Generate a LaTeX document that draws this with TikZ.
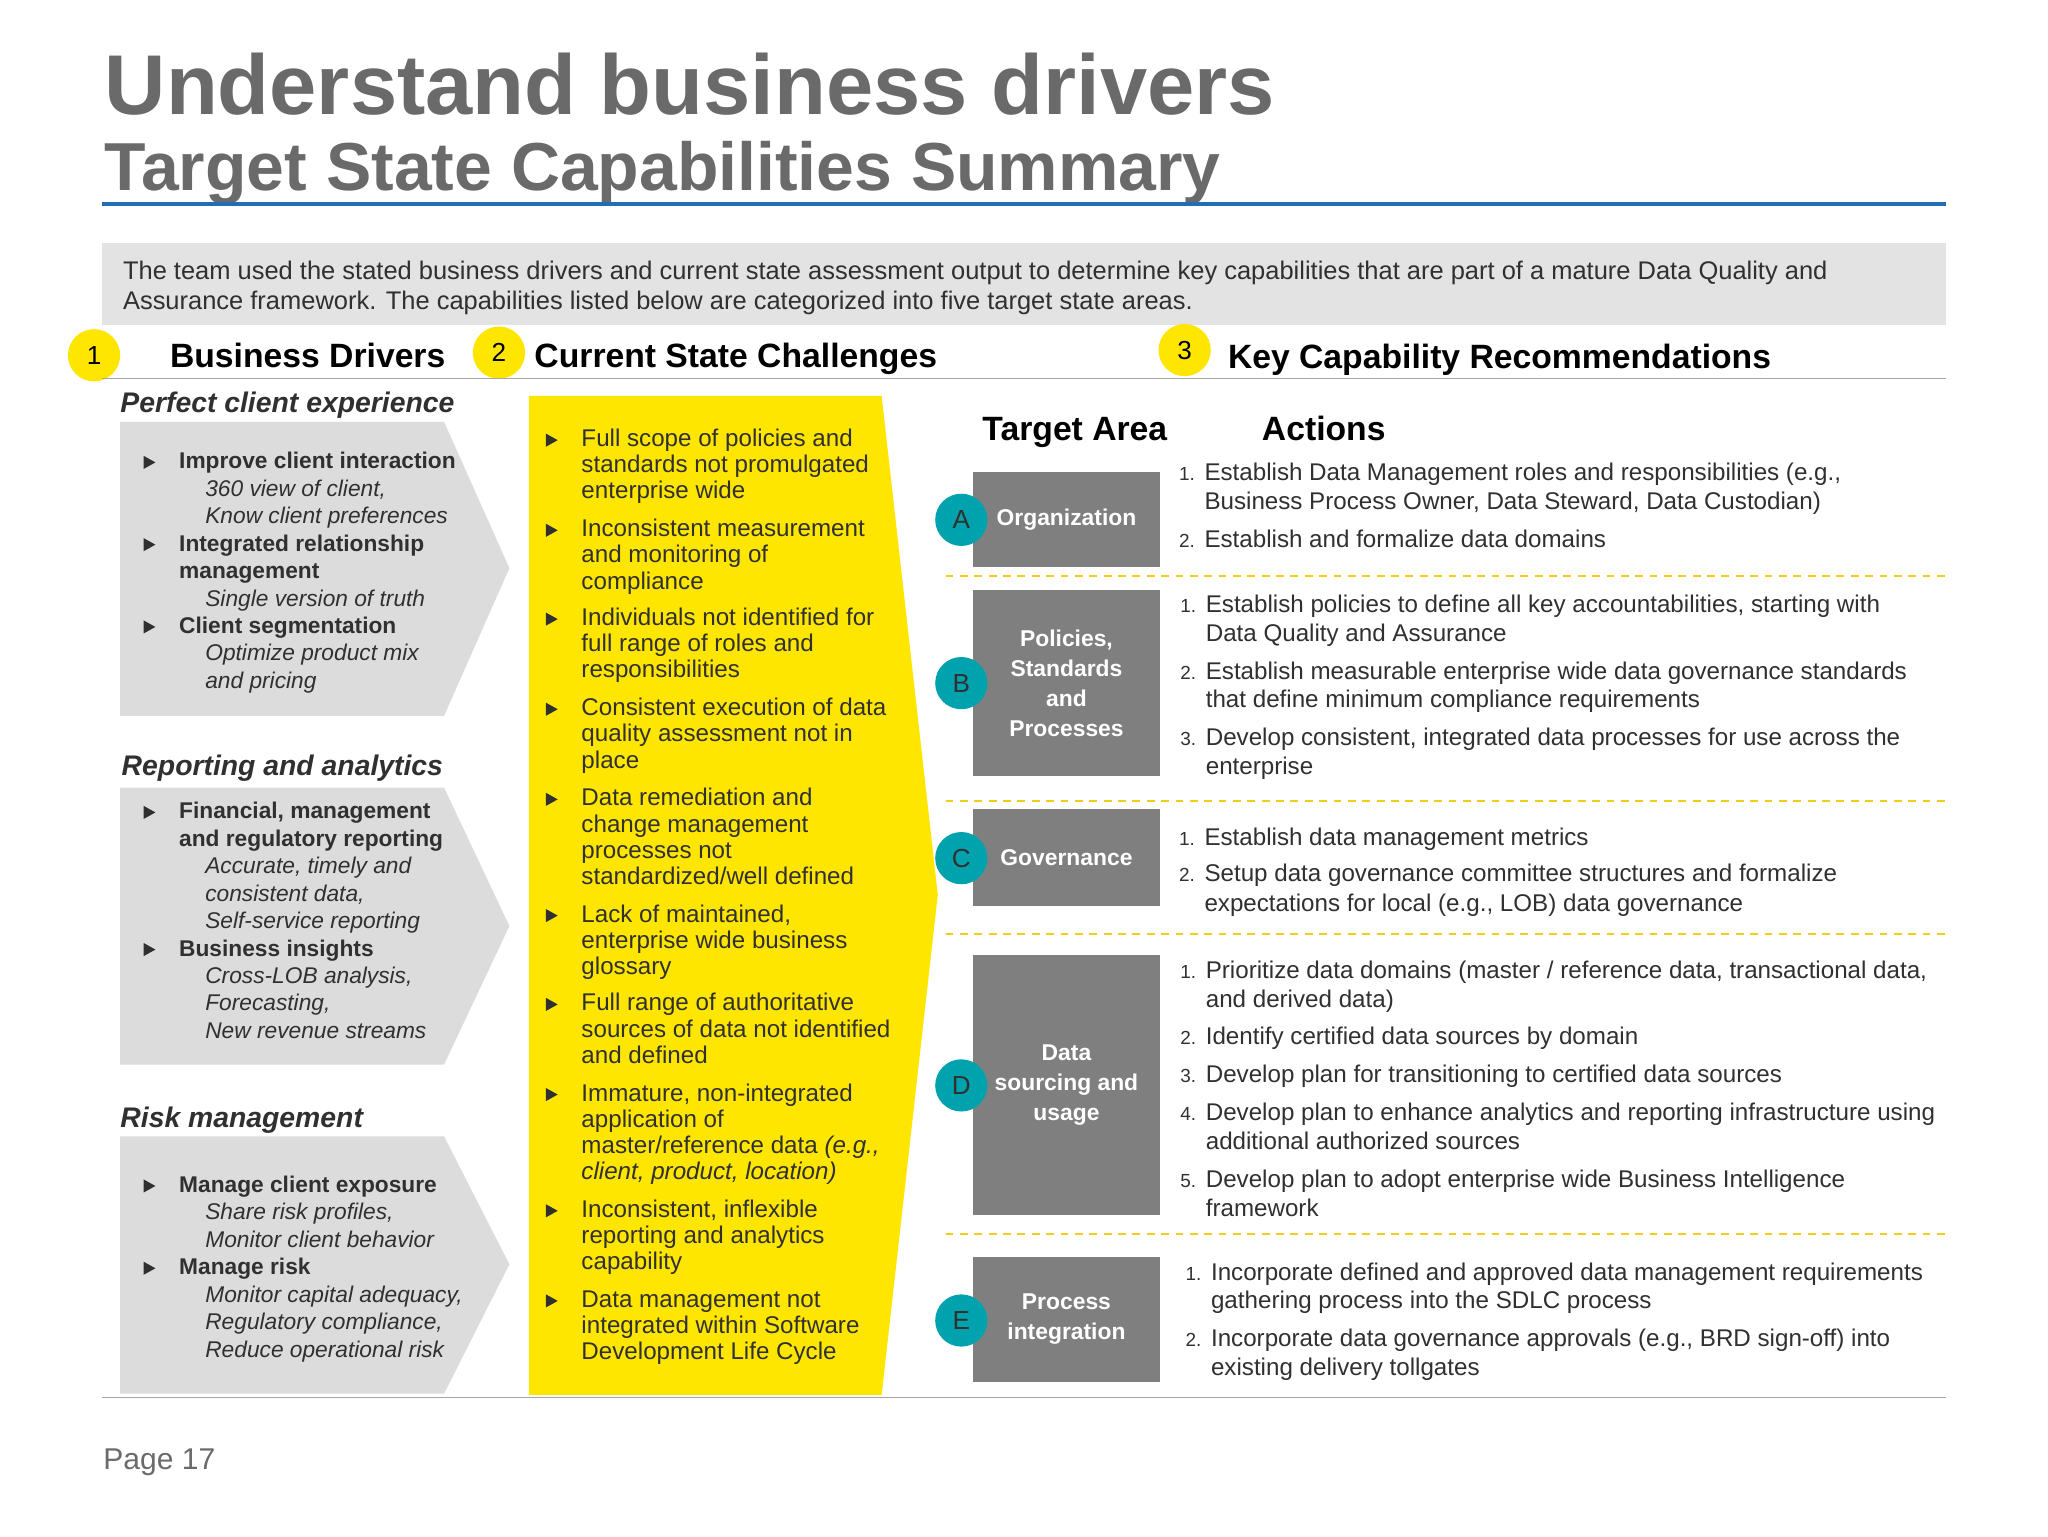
\documentclass[tikz,border=0pt]{standalone}
\usepackage{fontspec}
\setmainfont{Liberation Sans}
\definecolor{ttl}{HTML}{6A6A6A}
\definecolor{bodyc}{HTML}{303030}
\definecolor{ybg}{HTML}{FFE600}
\definecolor{lgray}{HTML}{E3E3E3}
\definecolor{pgray}{HTML}{DCDCDC}
\definecolor{bgray}{HTML}{7F7F80}
\definecolor{tealc}{HTML}{00A3AD}
\definecolor{blueline}{HTML}{1F6FB8}
\definecolor{dashyel}{HTML}{F2CE1A}
\tikzset{
 t/.style={anchor=base west,inner sep=0,text=bodyc,font=\fontsize{18.5}{20}\selectfont},
 tl/.style={anchor=base west,inner sep=0,text=bodyc,font=\fontsize{17.4}{20}\selectfont},
 tb/.style={tl,font=\fontsize{17.4}{20}\selectfont\bfseries},
 ti/.style={tl,font=\fontsize{17.4}{20}\selectfont\itshape},
 num/.style={anchor=base east,inner sep=0,text=bodyc,font=\fontsize{14.5}{16}\selectfont},
 hd/.style={anchor=base west,inner sep=0,text=black,font=\fontsize{25.8}{28}\selectfont\bfseries},
 sec/.style={anchor=base west,inner sep=0,text=bodyc,font=\fontsize{21.7}{24}\selectfont\bfseries\itshape},
 ycirc/.style={circle,fill=ybg,minimum size=40pt,inner sep=0,font=\fontsize{20}{20}\selectfont},
 tcirc/.style={circle,fill=tealc,minimum size=40pt,inner sep=0,font=\fontsize{20}{20}\selectfont,text=bodyc},
 gbox/.style={fill=bgray,text=white,align=center,font=\fontsize{17.5}{23}\selectfont\bfseries,inner sep=0},
 dline/.style={draw=dashyel,line width=1.5pt,dash pattern=on 6pt off 5pt},
}
\newcommand{\tri}[2]{\fill[bodyc] (#1,#2-10) -- (#1+9,#2-5) -- (#1,#2) -- cycle;}
\begin{document}
\begin{tikzpicture}[x=1pt,y=-1pt]
\useasboundingbox (0,0) rectangle (1568,1176);
\fill[white] (0,0) rectangle (1568,1176);
% titles
\node[anchor=base west,inner sep=0,text=ttl,font=\fontsize{65}{65}\selectfont\bfseries] (title) at (80,88) {Understand business drivers};
\node[anchor=base west,inner sep=0,text=ttl,font=\fontsize{52}{52}\selectfont\bfseries] (sub) at (80,146) {Target State Capabilities Summary};
\draw[blueline,line width=3pt] (78,156) -- (1490,156);
% intro
\fill[lgray] (78,186) rectangle (1490,249);
\node[t,font=\fontsize{19.5}{20}\selectfont] (i1) at (94,214) {The team used the stated business drivers and current state assessment output to determine key capabilities that are part of a mature Data Quality and};
\node[t,font=\fontsize{19.5}{20}\selectfont] (i2) at (94,237) {Assurance framework. The capabilities listed below are categorized into five target state areas.};
% headers
\node[ycirc] (c1) at (72,272) {1};
\node[ycirc] (c2) at (382,270) {2};
\node[ycirc] (c3) at (907,268) {3};
\node[hd] (h1) at (130,281) {Business Drivers};
\node[hd] (h2) at (409,281) {Current State Challenges};
\node[hd] (h3) at (940,282) {Key Capability Recommendations};
\draw[gray!70,line width=1pt] (78,290) -- (1490,290);
% left panel
\node[sec] (s1) at (92,316) {Perfect client experience};
\fill[pgray] (92,323) -- (340,323) -- (390,435) -- (340,548) -- (92,548) -- cycle;
\tri{110}{359}\node[tb] at (137,359) {Improve client interaction};
\node[ti] at (157,380) {360 view of client,};
\node[ti] at (157,401) {Know client preferences};
\tri{110}{422}\node[tb] at (137,422) {Integrated relationship};
\node[tb] at (137,443) {management};
\node[ti] at (157,464) {Single version of truth};
\tri{110}{485}\node[tb] at (137,485) {Client segmentation};
\node[ti] at (157,506) {Optimize product mix};
\node[ti] at (157,527) {and pricing};

\node[sec] (s2) at (93,594) {Reporting and analytics};
\fill[pgray] (92,603) -- (340,603) -- (390,709) -- (340,815) -- (92,815) -- cycle;
\tri{110}{627}\node[tb] at (137,627) {Financial, management};
\node[tb] at (137,648) {and regulatory reporting};
\node[ti] at (157,669) {Accurate, timely and};
\node[ti] at (157,690) {consistent data,};
\node[ti] at (157,711) {Self-service reporting};
\tri{110}{732}\node[tb] at (137,732) {Business insights};
\node[ti] at (157,753) {Cross-LOB analysis,};
\node[ti] at (157,774) {Forecasting,};
\node[ti] at (157,795) {New revenue streams};

\node[sec] (s3) at (92,863) {Risk management};
\fill[pgray] (92,870) -- (340,870) -- (390,968) -- (340,1067) -- (92,1067) -- cycle;
\tri{110}{913}\node[tb] at (137,913) {Manage client exposure};
\node[ti] at (157,934) {Share risk profiles,};
\node[ti] at (157,955) {Monitor client behavior};
\tri{110}{976}\node[tb] at (137,976) {Manage risk};
\node[ti] at (157,997) {Monitor capital adequacy,};
\node[ti] at (157,1018) {Regulatory compliance,};
\node[ti] at (157,1039) {Reduce operational risk};
% yellow column
\fill[ybg] (405,303) -- (675,303) -- (718,685) -- (675,1068) -- (405,1068) -- cycle;
\tri{418}{342}\node[t] at (445,342) {Full scope of policies and};
\node[t] at (445,362) {standards not promulgated};
\node[t] at (445,382) {enterprise wide};
\tri{418}{411}\node[t] at (445,411) {Inconsistent measurement};
\node[t] at (445,431) {and monitoring of};
\node[t] at (445,451) {compliance};
\tri{418}{479}\node[t] at (445,479) {Individuals not identified for};
\node[t] at (445,499) {full range of roles and};
\node[t] at (445,519) {responsibilities};
\tri{418}{548}\node[t] at (445,548) {Consistent execution of data};
\node[t] at (445,568) {quality assessment not in};
\node[t] at (445,588) {place};
\tri{418}{617}\node[t] at (445,617) {Data remediation and};
\node[t] at (445,637) {change management};
\node[t] at (445,657) {processes not};
\node[t] at (445,677) {standardized/well defined};
\tri{418}{706}\node[t] at (445,706) {Lack of maintained,};
\node[t] at (445,726) {enterprise wide business};
\node[t] at (445,746) {glossary};
\tri{418}{774}\node[t] at (445,774) {Full range of authoritative};
\node[t] at (445,794) {sources of data not identified};
\node[t] at (445,814) {and defined};
\tri{418}{843}\node[t] at (445,843) {Immature, non-integrated};
\node[t] at (445,863) {application of};
\node[t] at (445,883) {master/reference data \textit{(e.g.,}};
\node[t] at (445,903) {\textit{client, product, location)}};
\tri{418}{932}\node[t] at (445,932) {Inconsistent, inflexible};
\node[t] at (445,952) {reporting and analytics};
\node[t] at (445,972) {capability};
\tri{418}{1001}\node[t] at (445,1001) {Data management not};
\node[t] at (445,1021) {integrated within Software};
\node[t] at (445,1041) {Development Life Cycle};
% right
\node[hd] (ta) at (752,337) {Target Area};
\node[hd] (ac) at (966,337) {Actions};
\node[gbox,minimum width=143pt,minimum height=73pt] (bA) at (816.5,397.5) {Organization};
\node[gbox,minimum width=143pt,minimum height=142pt] (bB) at (816.5,523) {Policies,\\Standards\\and\\Processes};
\node[gbox,minimum width=143pt,minimum height=75pt] (bC) at (816.5,656.5) {Governance};
\node[gbox,minimum width=143pt,minimum height=199pt] (bD) at (816.5,830.5) {Data\\sourcing and\\usage};
\node[gbox,minimum width=143pt,minimum height=96pt] (bE) at (816.5,1010) {Process\\integration};
\node[tcirc] (cA) at (736,398) {A};
\node[tcirc] (cB) at (736,523) {B};
\node[tcirc] (cC) at (736,657) {C};
\node[tcirc] (cD) at (736,831) {D};
\node[tcirc] (cE) at (736,1011) {E};
\draw[dline] (724,441) -- (1490,441);
\draw[dline] (724,613) -- (1490,613);
\draw[dline] (724,715) -- (1490,715);
\draw[dline] (724,945) -- (1490,945);
% actions
\node[num] at (915,368) {1.}; \node[t] at (922,368) {Establish Data Management roles and responsibilities (e.g.,};
\node[t] at (922,390) {Business Process Owner, Data Steward, Data Custodian)};
\node[num] at (915,419) {2.}; \node[t] at (922,419) {Establish and formalize data domains};
\node[num] at (916,469) {1.}; \node[t] at (923,469) {Establish policies to define all key accountabilities, starting with};
\node[t] at (923,491) {Data Quality and Assurance};
\node[num] at (916,520) {2.}; \node[t] at (923,520) {Establish measurable enterprise wide data governance standards};
\node[t] at (923,542) {that define minimum compliance requirements};
\node[num] at (916,571) {3.}; \node[t] at (923,571) {Develop consistent, integrated data processes for use across the};
\node[t] at (923,593) {enterprise};
\node[num] at (915,647) {1.}; \node[t] at (922,647) {Establish data management metrics};
\node[num] at (915,675) {2.}; \node[t] at (922,675) {Setup data governance committee structures and formalize};
\node[t] at (922,698) {expectations for local (e.g., LOB) data governance};
\node[num] at (916,749) {1.}; \node[t] at (923,749) {Prioritize data domains (master / reference data, transactional data,};
\node[t] at (923,771) {and derived data)};
\node[num] at (916,800) {2.}; \node[t] at (923,800) {Identify certified data sources by domain};
\node[num] at (916,829) {3.}; \node[t] at (923,829) {Develop plan for transitioning to certified data sources};
\node[num] at (916,858) {4.}; \node[t] at (923,858) {Develop plan to enhance analytics and reporting infrastructure using};
\node[t] at (923,880) {additional authorized sources};
\node[num] at (916,909) {5.}; \node[t] at (923,909) {Develop plan to adopt enterprise wide Business Intelligence};
\node[t] at (923,931) {framework};
\node[num] at (920,980) {1.}; \node[t] at (927,980) {Incorporate defined and approved data management requirements};
\node[t] at (927,1002) {gathering process into the SDLC process};
\node[num] at (920,1031) {2.}; \node[t] at (927,1031) {Incorporate data governance approvals (e.g., BRD sign-off) into};
\node[t] at (927,1053) {existing delivery tollgates};
% footer
\draw[gray!70,line width=1pt] (78,1070) -- (1490,1070);
\node[anchor=base west,inner sep=0,text=ttl,font=\fontsize{23}{23}\selectfont] (pg) at (79,1125) {Page 17};
\end{tikzpicture}
\end{document}
